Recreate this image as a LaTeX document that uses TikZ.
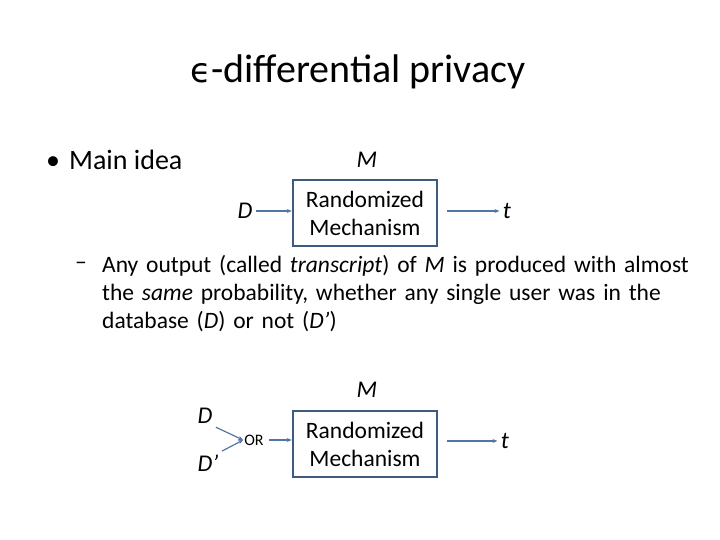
\documentclass[tikz,border=0pt]{standalone}
\usepackage{fontspec}
\setmainfont{Carlito}
\newfontfamily\djv{DejaVu Sans}
\usetikzlibrary{arrows.meta}
\definecolor{boxc}{HTML}{3D5A80}
\definecolor{arrc}{HTML}{5375A3}
\begin{document}
\begin{tikzpicture}[x=1pt,y=-1pt,
  mech/.style={draw=boxc,line width=2.5pt,minimum width=144pt,minimum height=66pt,align=center,font=\fontsize{23.5}{28}\selectfont},
  lbl/.style={font=\fontsize{24}{28}\selectfont\itshape},
  con/.style={draw=arrc,line width=1.2pt,-{Stealth[length=5pt,width=4pt]}},
  body/.style={font=\fontsize{23.5}{28}\selectfont,anchor=west}]
\useasboundingbox (0,0) rectangle (720,540);
\node (title) at (358,72) {\fontsize{40}{44}\selectfont{\djv\fontsize{34}{40}\selectfont ϵ}-differential privacy};
\node[anchor=west,font=\fontsize{28}{32}\selectfont,inner sep=0pt] (b1) at (46,160) {•\hspace{9pt}Main idea};
\node[lbl] (m1) at (367,160) {M};
\node[mech] (box1) at (365,213) {Randomized\\Mechanism};
\node[lbl] (d1) at (245,211) {D};
\node[lbl] (t1) at (507,211) {t};
\draw[con] (d1.east) -- (box1.west |- d1.east);
\draw[con] (box1.east |- t1.west) ++(9,0) -- (t1.west);
\node[body,inner sep=0pt] (dash) at (75,266) {–};
\node[body,text width=600pt,align=left,inner sep=0pt] (txt) at (102,294) {\raggedright Any output (called \textit{transcript}) of \textit{M} is produced with almost\\the \textit{same} probability, whether any single user was in the\\database (\textit{D}) or not (\textit{D'})};
\node[lbl] (m2) at (367,390) {M};
\node[mech] (box2) at (365,444) {Randomized\\Mechanism};
\node[lbl] (d2) at (205,416) {D};
\node[lbl] (d3) at (208,463) {D'};
\node[font=\fontsize{16}{18}\selectfont,inner sep=1pt] (or) at (254,440) {OR};
\node[lbl] (t2) at (505,441) {t};
\draw[con] (d2.south east) -- (or.west);
\draw[con] (d3.north east) -- (or.west);
\draw[con] (or.east) ++(4,0) -- (box2.west |- or.east);
\draw[con] (box2.east |- t2.west) ++(9,0) -- (t2.west);
\end{tikzpicture}
\end{document}
